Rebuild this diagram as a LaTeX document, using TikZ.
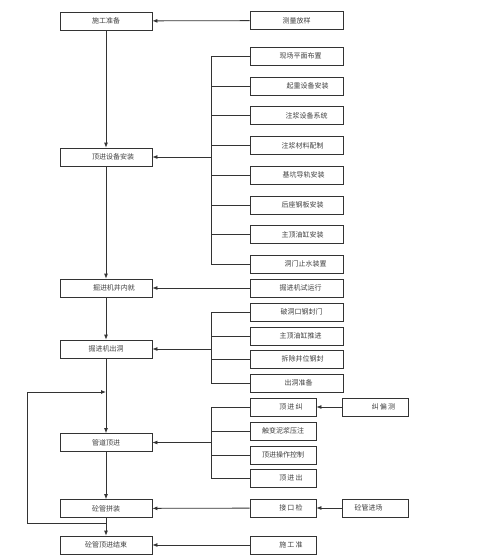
\documentclass[tikz,border=0pt]{standalone}
\usepackage{fontspec}
\newfontfamily\cjk{Noto Sans CJK SC}
\usepackage{tikz}
\usetikzlibrary{arrows.meta, positioning}

\begin{document}
\begin{tikzpicture}[
    x=1pt, y=-1pt,
    font=\cjk\fontsize{7}{8}\selectfont,
    stage/.style={draw=black!80, line width=0.8pt, fill=white, align=center, minimum width=92pt, minimum height=18pt, inner sep=0pt, text=black!75},
    task/.style={stage, minimum width=93pt},
    smalltask/.style={stage, minimum width=66pt},
    arrow/.style={-{Latex[length=5pt, width=4pt]}, line width=0.8pt, draw=black!80},
    link/.style={line width=0.8pt, draw=black!80}
]
\useasboundingbox (0,0) rectangle (492,560);

% main column
\node[stage] (prep) at (106,21) {施工准备};
\node[stage] (install) at (106,157) {\hspace*{14pt}顶进设备安装};
\node[stage] (inwell) at (106,288) {\hspace*{16pt}掘进机井内就};
\node[stage] (exit) at (106,349) {掘进机出洞};
\node[stage] (jack) at (106,442.5) {管道顶进};
\node[stage] (joint) at (106,508.5) {砼管拼装};
\node[stage] (finish) at (106,545) {砼管顶进结束};

% side tasks
\node[task] (survey) at (296.5,20.5) {测量放样};
\node[task] (layout) at (296.5,56) {\hspace*{8pt}现场平面布置};
\node[task] (crane) at (296.5,86) {\hspace*{22pt}起重设备安装};
\node[task] (grout) at (296.5,115.5) {\hspace*{20pt}注浆设备系统};
\node[task] (mix) at (296.5,145.5) {\hspace*{12pt}注浆材料配制};
\node[task] (rail) at (296.5,175) {\hspace*{14pt}基坑导轨安装};
\node[task] (backplate) at (296.5,205) {\hspace*{12pt}后座钢板安装};
\node[task] (cylinder) at (296.5,234.5) {\hspace*{12pt}主顶油缸安装};
\node[task] (seal) at (296.5,264) {\hspace*{18pt}洞门止水装置};
\node[task] (trial) at (296.5,288) {\hspace*{8pt}掘进机试运行};
\node[task] (breakin) at (296.5,312) {\hspace*{10pt}破洞口钢封门};
\node[task] (push) at (296.5,336) {\hspace*{8pt}主顶油缸推进};
\node[task] (removal) at (296.5,359) {\hspace*{12pt}拆除井位钢封};
\node[task] (ready) at (296.5,383) {\hspace*{4pt}出洞准备};

\node[smalltask] (correct) at (283,407) {\hspace*{16pt}顶\,进\,纠};
\node[smalltask] (slurry) at (283,431) {触变泥浆压注};
\node[smalltask] (control) at (283,455) {顶进操作控制};
\node[smalltask] (outlet) at (283,478) {\hspace*{16pt}顶\,进\,出};
\node[smalltask] (check) at (283,508) {\hspace*{16pt}接\,口\,检};
\node[smalltask] (prep2) at (283,545) {\hspace*{16pt}施\,工\,准};

\node[smalltask] (measure) at (375.5,407) {\hspace*{16pt}纠\,偏\,测};
\node[smalltask] (pipein) at (375.5,508) {\hspace*{-14pt}砼管进场};

% bus lines
\coordinate (bus) at (211,0);
\coordinate (loopA) at (27,523);
\coordinate (loopB) at (27,392);

% main flow
\draw[arrow] (prep) -- (install);
\draw[arrow] (install) -- (inwell);
\draw[arrow] (inwell) -- (exit);
\draw[arrow] (exit) -- (jack);
\draw[arrow] (jack) -- (joint);
\draw[arrow] (joint) -- (finish);

% direct inputs
\draw[arrow] (survey) -- (prep);
\draw[arrow] (trial) -- (inwell);
\draw[arrow] (check) -- (joint);
\draw[arrow] (prep2) -- (finish);
\draw[arrow] (measure) -- (correct);
\draw[arrow] (pipein) -- (check);

% group 1
\foreach \n in {layout, crane, grout, mix, rail, backplate, cylinder, seal}
    \draw[link] (\n.west) -- (\n.west -| bus);
\draw[link] (layout.west -| bus) -- (seal.west -| bus);
\draw[arrow] (install.east -| bus) -- (install.east);

% group 2
\foreach \n in {breakin, push, removal, ready}
    \draw[link] (\n.west) -- (\n.west -| bus);
\draw[link] (breakin.west -| bus) -- (ready.west -| bus);
\draw[arrow] (exit.east -| bus) -- (exit.east);

% group 3
\foreach \n in {correct, slurry, control, outlet}
    \draw[link] (\n.west) -- (\n.west -| bus);
\draw[link] (correct.west -| bus) -- (outlet.west -| bus);
\draw[arrow] (jack.east -| bus) -- (jack.east);

% repeat loop
\draw[arrow] (joint.south |- loopA) -- (loopA) -- (loopB) -- (exit.south |- loopB);

\end{tikzpicture}
\end{document}
